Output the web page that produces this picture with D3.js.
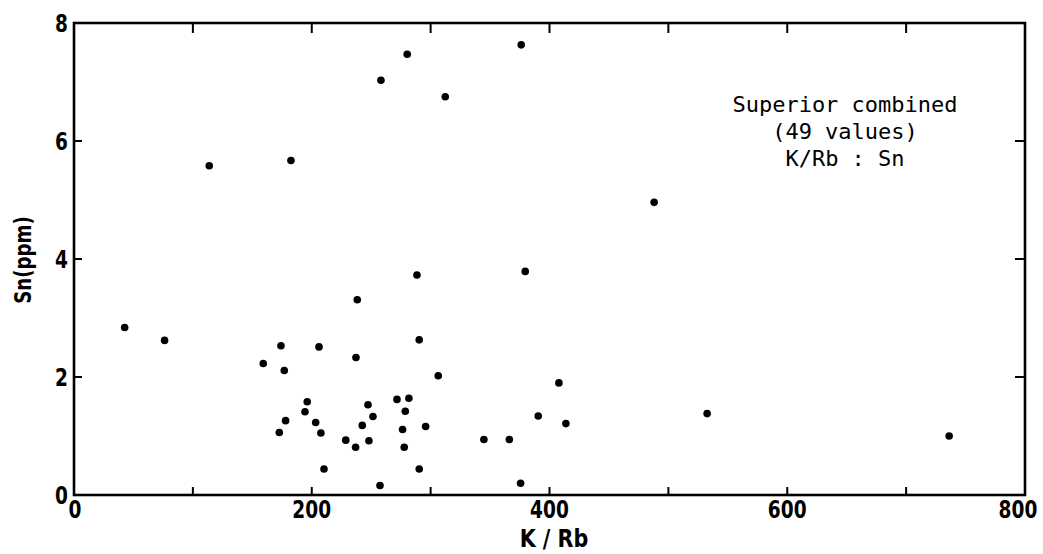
<!DOCTYPE html>
<html>
<head>
<meta charset="utf-8">
<script src="https://cdn.jsdelivr.net/npm/d3@7"></script>
<style>
  html, body { margin: 0; padding: 0; background: #fff; }
  svg { display: block; }
</style>
</head>
<body>
<svg id="chart" width="1043" height="554"></svg>
<script>
// K/Rb values (x)
const kRb = [42.6, 76.2, 113.8, 159.2, 172.7, 174.1, 176.9, 178.0, 182.5, 194.3,
             196.2, 203.3, 206.1, 207.7, 210.3, 228.6, 236.9, 237.2, 238.3, 242.5,
             247.3, 248.1, 251.5, 257.4, 258.2, 271.7, 276.4, 277.8, 278.7, 280.3,
             281.7, 288.5, 290.4, 290.4, 295.8, 306.4, 312.3, 344.8, 366.2, 375.7,
             376.2, 379.6, 390.5, 407.9, 413.8, 488.0, 532.6, 736.2];
// Sn (ppm) values (y)
const sn  = [2.84, 2.62, 5.58, 2.23, 1.06, 2.53, 2.11, 1.26, 5.67, 1.41,
             1.58, 1.23, 2.51, 1.05, 0.44, 0.93, 0.81, 2.33, 3.31, 1.18,
             1.53, 0.92, 1.33, 0.16, 7.03, 1.62, 1.11, 0.81, 1.42, 7.47,
             1.64, 3.73, 0.44, 2.63, 1.16, 2.02, 6.75, 0.94, 0.94, 0.20,
             7.63, 3.79, 1.34, 1.90, 1.21, 4.96, 1.38, 1.00];

const xTickLabels = [0, 200, 400, 600, 800];
const xMinorTicks = [100, 200, 300, 400, 500, 600, 700];
const yTickLabels = [0, 2, 4, 6, 8];
const annotation = ["Superior combined", "(49 values)", "K/Rb : Sn"];
const xTitle = "K / Rb";
const yTitle = "Sn(ppm)";

const svg = d3.select("#chart");
const L = 74, R = 1025, T = 23, B = 495;

const x = d3.scaleLinear().domain([0, 800]).range([L, R]);
const y = d3.scaleLinear().domain([0, 8]).range([B, T]);

const labelFont = "'DejaVu Sans Condensed', 'DejaVu Sans', sans-serif";
const sx = 0.86;

// ticks
const tickG = svg.append("g").attr("stroke", "#000").attr("stroke-width", 2);
tickG.selectAll(".bt").data(xMinorTicks).enter().append("line")
  .attr("x1", d => x(d)).attr("x2", d => x(d))
  .attr("y1", B).attr("y2", B - 8);
tickG.selectAll(".tt").data(xMinorTicks).enter().append("line")
  .attr("x1", d => x(d)).attr("x2", d => x(d))
  .attr("y1", T).attr("y2", T + 10);
tickG.selectAll(".lt").data(yTickLabels.slice(1, -1)).enter().append("line")
  .attr("x1", L).attr("x2", L + 8)
  .attr("y1", d => y(d)).attr("y2", d => y(d));
tickG.selectAll(".rt").data(yTickLabels.slice(1, -1)).enter().append("line")
  .attr("x1", R).attr("x2", R - 10)
  .attr("y1", d => y(d)).attr("y2", d => y(d));

// frame
svg.append("rect")
  .attr("x", L).attr("y", T)
  .attr("width", R - L).attr("height", B - T)
  .attr("fill", "none").attr("stroke", "#000").attr("stroke-width", 2.6);

// x tick labels
svg.selectAll(".xl").data(xTickLabels).enter().append("text")
  .attr("transform", d => {
    const px = x(d) + (d === 0 ? 1 : 0) - (d === 800 ? 7 : 0);
    return `translate(${px},518) scale(${sx},1)`;
  })
  .attr("text-anchor", "middle")
  .attr("font-family", labelFont)
  .attr("font-weight", "bold")
  .attr("font-size", 24)
  .text(d => d);

// y tick labels
svg.selectAll(".yl").data(yTickLabels).enter().append("text")
  .attr("transform", d => `translate(68,${y(d) + 9}) scale(${sx},1)`)
  .attr("text-anchor", "end")
  .attr("font-family", labelFont)
  .attr("font-weight", "bold")
  .attr("font-size", 24)
  .text(d => d);

// axis titles
svg.append("text")
  .attr("transform", `translate(554,547) scale(0.92,1)`)
  .attr("text-anchor", "middle")
  .attr("font-family", labelFont)
  .attr("font-weight", "bold")
  .attr("font-size", 25)
  .text(xTitle);

svg.append("text")
  .attr("transform", "translate(31,260) rotate(-90) scale(0.88,1)")
  .attr("text-anchor", "middle")
  .attr("font-family", labelFont)
  .attr("font-weight", "bold")
  .attr("font-size", 23)
  .text(yTitle);

// annotation
svg.append("g").selectAll("text").data(annotation).enter().append("text")
  .attr("x", 845)
  .attr("y", (d, i) => 112 + i * 27)
  .attr("text-anchor", "middle")
  .attr("font-family", "'DejaVu Sans Mono', monospace")
  .attr("font-size", 22)
  .text(d => d);

// points
svg.append("g").selectAll("circle").data(kRb.map((v, i) => [v, sn[i]])).enter()
  .append("circle")
  .attr("cx", d => x(d[0]))
  .attr("cy", d => y(d[1]))
  .attr("r", 3.8)
  .attr("fill", "#000");
</script>
</body>
</html>
